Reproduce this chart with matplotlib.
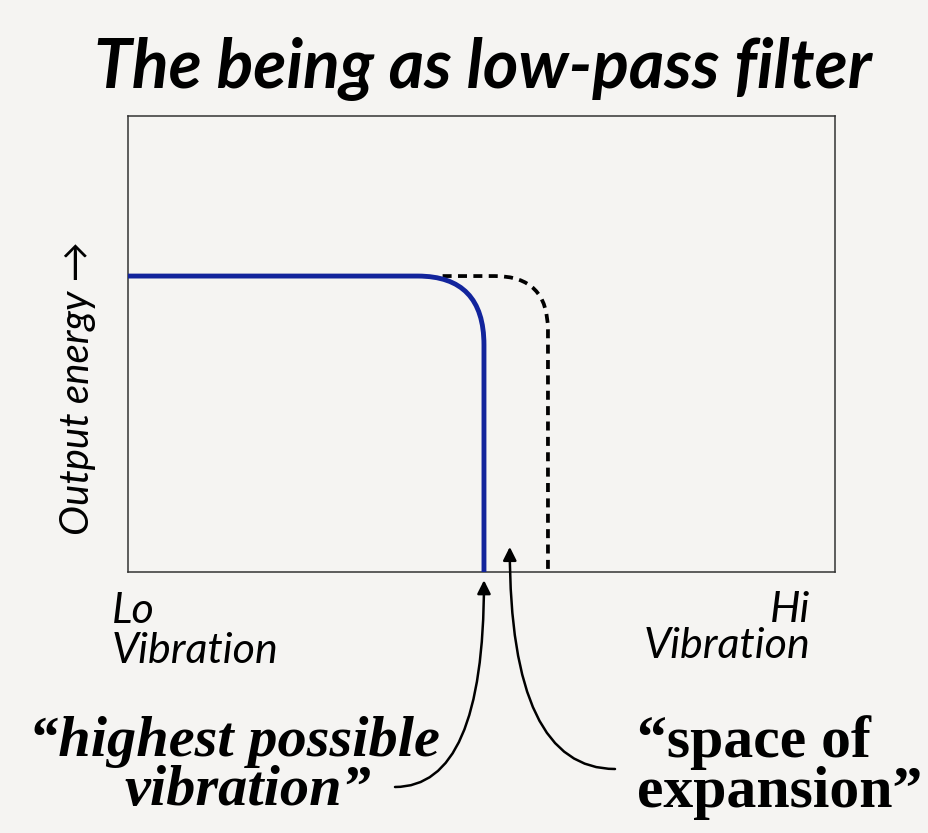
import matplotlib
matplotlib.use("Agg")
import matplotlib.pyplot as plt
from matplotlib.path import Path
from matplotlib.patches import PathPatch

# data (axis units 0..10)
blue_x = [0.0, 4.10, 5.035, 5.035, 5.035]
blue_y = [6.49, 6.49, 6.49, 4.98, 0.0]
dash_x = [4.45, 5.19, 5.94, 5.94, 5.94]
dash_y = [6.49, 6.49, 6.49, 5.31, 0.0]

title = "The being as low-pass filter"
ylabel = "Output energy \u2192"
lo_label = ["Lo", "Vibration"]
hi_label = ["Hi", "Vibration"]
note_left = ["\u201chighest possible", "vibration\u201d"]
note_right = ["\u201cspace of", "expansion\u201d"]

bg = "#f5f4f2"
sans = ["Lato", "DejaVu Sans"]
serif = ["Liberation Serif", "DejaVu Serif"]

fig = plt.figure(figsize=(9.29, 8.33), dpi=100, facecolor=bg)
W, H = 929, 833
ax = fig.add_axes([128 / W, 1 - 572 / H, (835 - 128) / W, (572 - 116) / H])
ax.set_facecolor(bg)
ax.set_xlim(0, 10)
ax.set_ylim(0, 10)
ax.set_xticks([])
ax.set_yticks([])
for s in ax.spines.values():
    s.set_color("#333333")
    s.set_linewidth(1.1)

codes = [Path.MOVETO, Path.LINETO, Path.CURVE3, Path.CURVE3, Path.LINETO]
dash_path = Path(list(zip(dash_x, dash_y)), codes)
ax.add_patch(PathPatch(dash_path, fill=False, edgecolor="black", lw=2.7,
                       linestyle=(0, (2.4, 1.7)), zorder=2))
blue_path = Path(list(zip(blue_x, blue_y)), codes)
ax.add_patch(PathPatch(blue_path, fill=False, edgecolor="#12249c", lw=3.5,
                       capstyle="butt", zorder=3))

# title and labels
fig.text(483 / W, 1 - 88 / H, title, ha="center", va="baseline",
         fontsize=49, fontweight="bold", fontstyle="italic", family=sans)
fig.text(78 / W, 1 - 388 / H, ylabel, ha="center", va="center", rotation=90,
         fontsize=29, fontstyle="italic", family=sans)
fig.text(112 / W, 1 - 623 / H, lo_label[0], ha="left", va="baseline",
         fontsize=31, fontstyle="italic", family=sans)
fig.text(112 / W, 1 - 663 / H, lo_label[1], ha="left", va="baseline",
         fontsize=31, fontstyle="italic", family=sans)
fig.text(810 / W, 1 - 622 / H, hi_label[0], ha="right", va="baseline",
         fontsize=31, fontstyle="italic", family=sans)
fig.text(810 / W, 1 - 658 / H, hi_label[1], ha="right", va="baseline",
         fontsize=31, fontstyle="italic", family=sans)

# notes at the bottom
fig.text(234 / W, 1 - 756 / H, note_left[0], ha="center", va="baseline",
         fontsize=42, fontweight="bold", fontstyle="italic", family=serif)
fig.text(248 / W, 1 - 805 / H, note_left[1], ha="center", va="baseline",
         fontsize=42, fontweight="bold", fontstyle="italic", family=serif)
fig.text(637 / W, 1 - 757 / H, note_right[0], ha="left", va="baseline",
         fontsize=43, fontweight="bold", family=serif)
fig.text(637 / W, 1 - 807 / H, note_right[1], ha="left", va="baseline",
         fontsize=43, fontweight="bold", family=serif)

# arrows
ax.annotate("", xy=(5.035, -0.18), xycoords="data",
            xytext=(395, H - 787), textcoords="figure pixels",
            annotation_clip=False,
            arrowprops=dict(arrowstyle="-|>", color="black", lw=1.8,
                            mutation_scale=20, shrinkA=0, shrinkB=0,
                            connectionstyle="angle3,angleA=0,angleB=90"))
ax.annotate("", xy=(5.40, 0.55), xycoords="data",
            xytext=(615, H - 769), textcoords="figure pixels",
            annotation_clip=False,
            arrowprops=dict(arrowstyle="-|>", color="black", lw=1.8,
                            mutation_scale=20, shrinkA=0, shrinkB=0,
                            connectionstyle="angle3,angleA=180,angleB=90"))

fig.savefig("out.png", dpi=100, facecolor=bg)
